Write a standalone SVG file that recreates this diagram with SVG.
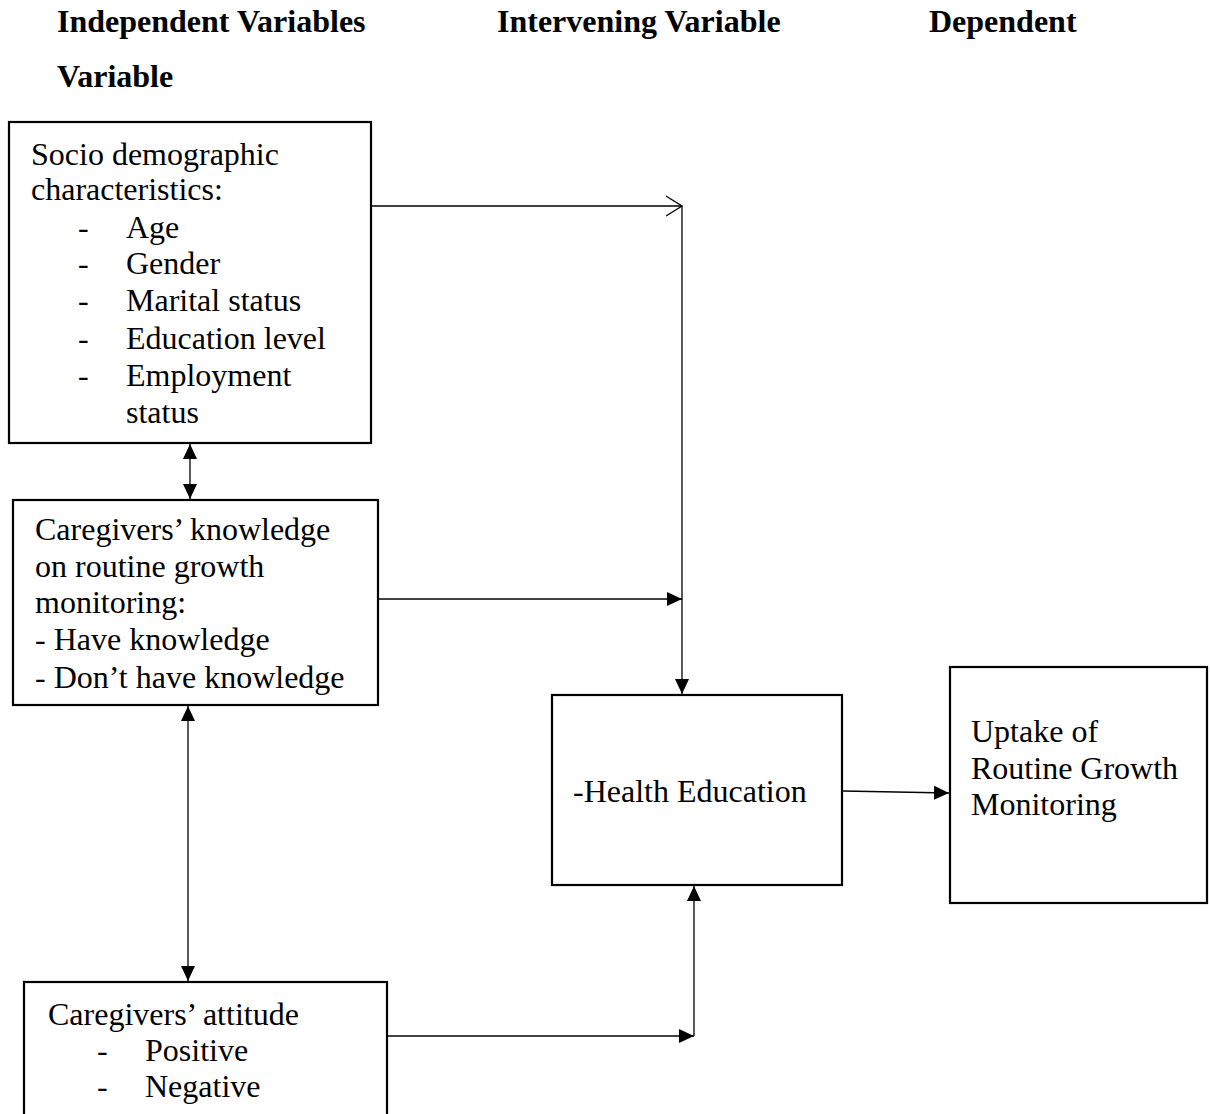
<svg xmlns="http://www.w3.org/2000/svg" width="1210" height="1114" viewBox="0 0 1210 1114">
<style>
text{font-family:"Liberation Serif","Times New Roman",serif;font-size:32px;fill:#000}
.h{font-weight:bold}
.box{fill:#fff;stroke:#000;stroke-width:2.2}
.c{fill:none;stroke:#000;stroke-width:1.3}
</style>
<defs>
<marker id="a" markerUnits="userSpaceOnUse" markerWidth="16" markerHeight="14" refX="15" refY="7" orient="auto-start-reverse">
<path d="M0,0 L15,7 L0,14 z" fill="#000"/>
</marker>
<marker id="o" markerUnits="userSpaceOnUse" markerWidth="18" markerHeight="22" refX="16" refY="11" orient="auto">
<path d="M0,1 L16,11 L0,21" fill="none" stroke="#000" stroke-width="1.3"/>
</marker>
</defs>
<g id="headers">
<text class="h" x="57" y="32">Independent Variables</text>
<text class="h" x="497" y="32">Intervening Variable</text>
<text class="h" x="929" y="32">Dependent</text>
<text class="h" x="57" y="87">Variable</text>
</g>
<g id="connectors">
<line class="c" x1="372" y1="206" x2="682" y2="206" marker-end="url(#o)"/>
<line class="c" x1="682" y1="206" x2="682" y2="694" marker-end="url(#a)"/>
<line class="c" x1="379" y1="599" x2="682" y2="599" marker-end="url(#a)"/>
<line class="c" x1="190" y1="444" x2="190" y2="499" marker-start="url(#a)" marker-end="url(#a)"/>
<line class="c" x1="188" y1="706" x2="188" y2="981" marker-start="url(#a)" marker-end="url(#a)"/>
<line class="c" x1="388" y1="1036" x2="694" y2="1036" marker-end="url(#a)"/>
<line class="c" x1="694" y1="1036" x2="694" y2="886" marker-end="url(#a)"/>
<line class="c" x1="843" y1="791" x2="949" y2="793" marker-end="url(#a)"/>
</g>
<g id="socio">
<rect class="box" x="9" y="122" width="362" height="321"/>
<text x="31" y="165">Socio demographic</text>
<text x="31" y="200">characteristics:</text>
<text x="78" y="238">-</text><text x="126" y="238">Age</text>
<text x="78" y="274">-</text><text x="126" y="274">Gender</text>
<text x="78" y="311">-</text><text x="126" y="311">Marital status</text>
<text x="78" y="349">-</text><text x="126" y="349">Education level</text>
<text x="78" y="386">-</text><text x="126" y="386">Employment</text>
<text x="126" y="423">status</text>
</g>
<g id="knowledge">
<rect class="box" x="13" y="500" width="365" height="205"/>
<text x="35" y="540">Caregivers’ knowledge</text>
<text x="35" y="577">on routine growth</text>
<text x="35" y="613">monitoring:</text>
<text x="35" y="650">- Have knowledge</text>
<text x="35" y="688">- Don’t have knowledge</text>
</g>
<g id="attitude">
<rect class="box" x="24" y="982" width="363" height="140"/>
<text x="48" y="1025">Caregivers’ attitude</text>
<text x="97" y="1061">-</text><text x="145" y="1061">Positive</text>
<text x="97" y="1097">-</text><text x="145" y="1097">Negative</text>
</g>
<g id="health">
<rect class="box" x="552" y="695" width="290" height="190"/>
<text x="573" y="802">-Health Education</text>
</g>
<g id="uptake">
<rect class="box" x="950" y="667" width="257" height="236"/>
<text x="971" y="742">Uptake of</text>
<text x="971" y="779">Routine Growth</text>
<text x="971" y="815">Monitoring</text>
</g>
</svg>
